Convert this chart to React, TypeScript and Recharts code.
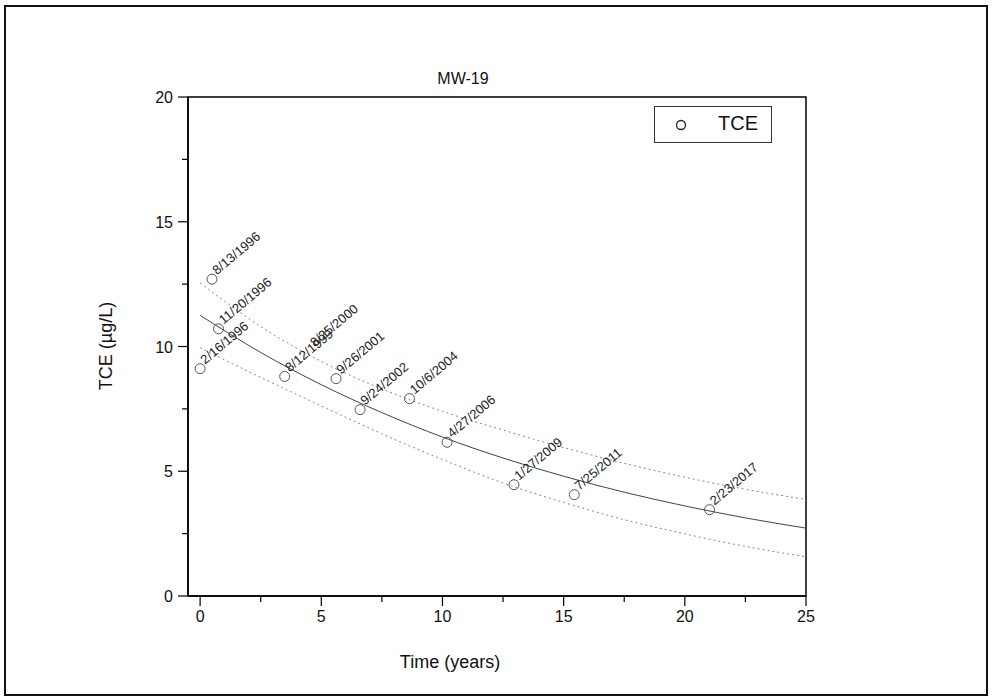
import React from 'react'
import { ComposedChart, Line, ReferenceArea, Scatter, XAxis, YAxis } from 'recharts'

// sampling events (years since 2/16/1996) and measured TCE
const sampleDates = [
  '2/16/1996', '8/13/1996', '11/20/1996', '8/12/1999', '8/25/2000', '9/26/2001',
  '9/24/2002', '10/6/2004', '4/27/2006', '1/27/2009', '7/25/2011', '2/23/2017',
]
const sampleYears = [0, 0.49, 0.76, 3.49, 4.52, 5.61, 6.6, 8.64, 10.19, 12.95, 15.44, 21.02]
const sampleTce = [9.11, 12.7, 10.71, 8.8, 9.8, 8.71, 7.47, 7.91, 6.16, 4.46, 4.06, 3.46]
// 8/25/2000 has only its label in the plot, no marker
const markerShown = [true, true, true, true, false, true, true, true, true, true, true, true]

// fitted decay curve and dotted bands
const fitYears = [0, 2.5, 5, 7.5, 10, 12.5, 15, 17.5, 20, 22.5, 25]
const fitTce = [11.25, 9.76, 8.47, 7.35, 6.37, 5.53, 4.8, 4.16, 3.61, 3.13, 2.72]
const upperTce = [12.55, 10.8, 9.4, 8.3, 7.4, 6.65, 5.95, 5.32, 4.76, 4.28, 3.87]
const lowerTce = [9.95, 8.76, 7.62, 6.5, 5.47, 4.53, 3.75, 3.06, 2.49, 1.99, 1.57]

const xTicks = [0, 2.5, 5, 7.5, 10, 12.5, 15, 17.5, 20, 22.5, 25]
const yTicks = [0, 2.5, 5, 7.5, 10, 12.5, 15, 17.5, 20]

const FONT = '"Liberation Sans", Arial, sans-serif'

const fitRows = fitYears.map((t, i) => ({ t, fit: fitTce[i], upper: upperTce[i], lower: lowerTce[i] }))
const samples = sampleYears.map((t, i) => ({
  t,
  tce: sampleTce[i],
  date: sampleDates[i],
  shown: markerShown[i],
}))

function SampleMark(props: any) {
  const { cx, cy, payload } = props
  const lx = cx + 5
  const ly = cy - 4
  return (
    <g>
      {payload.shown && <circle cx={cx} cy={cy} r={5} fill="none" stroke="#555" strokeWidth={1} />}
      <text
        x={lx}
        y={ly}
        transform={`rotate(-40 ${lx} ${ly})`}
        fontSize={13}
        fontFamily={FONT}
        fill="#222"
      >
        {payload.date}
      </text>
    </g>
  )
}

function XTick(props: any) {
  const { x, y, payload } = props
  const major = payload.value % 5 === 0
  return (
    <g>
      <line x1={x} y1={y} x2={x} y2={y + (major ? 10 : 6)} stroke="#000" strokeWidth={1.2} />
      {major && (
        <text x={x} y={y + 26} textAnchor="middle" fontSize={16} fontFamily={FONT} fill="#111">
          {payload.value}
        </text>
      )}
    </g>
  )
}

function YTick(props: any) {
  const { x, y, payload } = props
  const major = payload.value % 5 === 0
  return (
    <g>
      <line x1={x - (major ? 10 : 6)} y1={y} x2={x} y2={y} stroke="#000" strokeWidth={1.2} />
      {major && (
        <text x={x - 15} y={y + 6} textAnchor="end" fontSize={16} fontFamily={FONT} fill="#111">
          {payload.value}
        </text>
      )}
    </g>
  )
}

export default function App() {
  return (
    <div style={{ position: 'absolute', left: 0, top: 0, width: 994, height: 698, background: '#fff' }}>
      <div
        style={{
          position: 'absolute',
          left: 4,
          top: 5,
          width: 984,
          height: 691,
          border: '2px solid #111',
          boxSizing: 'border-box',
        }}
      />
      <ComposedChart
        width={994}
        height={698}
        data={fitRows}
        margin={{ top: 97, right: 188, bottom: 62, left: 128 }}
        style={{ position: 'absolute', left: 0, top: 0 }}
      >
        <XAxis
          type="number"
          dataKey="t"
          domain={[-0.5, 25]}
          ticks={xTicks}
          interval={0}
          tickSize={0}
          tickMargin={0}
          tickLine={false}
          tick={<XTick />}
          axisLine={{ stroke: '#000', strokeWidth: 1.5 }}
          height={40}
        />
        <YAxis
          type="number"
          domain={[0, 20]}
          ticks={yTicks}
          interval={0}
          tickSize={0}
          tickMargin={0}
          tickLine={false}
          tick={<YTick />}
          axisLine={{ stroke: '#000', strokeWidth: 1.5 }}
          width={60}
        />
        <ReferenceArea x1={-0.5} x2={25} y1={0} y2={20} fill="none" stroke="#000" strokeWidth={1.5} />
        <Line
          dataKey="upper"
          type="monotone"
          stroke="#888"
          strokeWidth={1}
          strokeDasharray="2 3"
          dot={false}
          isAnimationActive={false}
        />
        <Line
          dataKey="lower"
          type="monotone"
          stroke="#888"
          strokeWidth={1}
          strokeDasharray="2 3"
          dot={false}
          isAnimationActive={false}
        />
        <Line
          dataKey="fit"
          type="monotone"
          stroke="#444"
          strokeWidth={1}
          dot={false}
          isAnimationActive={false}
        />
        <Scatter data={samples} dataKey="tce" shape={<SampleMark />} isAnimationActive={false} />
      </ComposedChart>

      <div
        style={{
          position: 'absolute',
          left: 463,
          top: 79,
          transform: 'translate(-50%, -50%)',
          fontFamily: FONT,
          fontSize: 16,
          color: '#111',
          whiteSpace: 'nowrap',
        }}
      >
        MW-19
      </div>
      <div
        style={{
          position: 'absolute',
          left: 450,
          top: 662,
          transform: 'translate(-50%, -50%)',
          fontFamily: FONT,
          fontSize: 18,
          color: '#111',
          whiteSpace: 'nowrap',
        }}
      >
        Time (years)
      </div>
      <div
        style={{
          position: 'absolute',
          left: 106,
          top: 346,
          transform: 'translate(-50%, -50%) rotate(-90deg)',
          fontFamily: FONT,
          fontSize: 18,
          color: '#111',
          whiteSpace: 'nowrap',
        }}
      >
        TCE (µg/L)
      </div>

      <div
        style={{
          position: 'absolute',
          left: 654,
          top: 106,
          width: 118,
          height: 37,
          border: '1.5px solid #333',
          boxSizing: 'border-box',
          fontFamily: FONT,
        }}
      >
        <svg width={20} height={20} style={{ position: 'absolute', left: 16, top: 8 }}>
          <circle cx={10} cy={10} r={4.5} fill="none" stroke="#222" strokeWidth={1.3} />
        </svg>
        <span style={{ position: 'absolute', left: 63, top: 5, fontSize: 20, color: '#111' }}>TCE</span>
      </div>
    </div>
  )
}
